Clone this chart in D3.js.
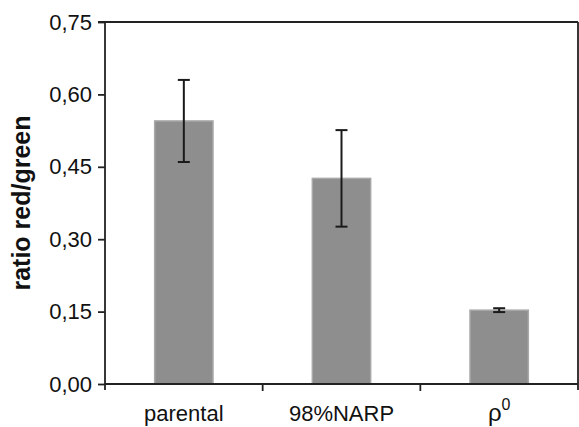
<!DOCTYPE html>
<html><head><meta charset="utf-8">
<script src="https://cdn.jsdelivr.net/npm/d3@7"></script>
<style>body{margin:0;background:#fff}svg{display:block}text{font-family:"Liberation Sans",Arial,sans-serif;fill:#111}</style>
</head><body>
<svg id="c" width="579" height="427"></svg>
<script>
const categories = ["parental", "98%NARP", "ρ0"];
const means = [0.545, 0.426, 0.153];
const errors = [0.085, 0.100, 0.004];
const yTicks = [0, 0.15, 0.30, 0.45, 0.60, 0.75];
const yLabel = "ratio red/green";

const svg = d3.select("#c");
const L = 105, R = 578, T = 22, B = 384;
const x = d3.scaleBand().domain(categories).range([L, R]).paddingInner(0).paddingOuter(0);
const y = d3.scaleLinear().domain([0, 0.75]).range([B, T]);
const barW = x.bandwidth() * 0.37;
const fmt = d => d3.format(".2f")(d).replace(".", ",");

// frame top & right
svg.append("line").attr("x1", L - 7).attr("x2", R).attr("y1", T).attr("y2", T).attr("stroke", "#222").attr("stroke-width", 1.8);
svg.append("line").attr("x1", R).attr("x2", R).attr("y1", T).attr("y2", B + 6).attr("stroke", "#222").attr("stroke-width", 1.8);

// bars
svg.selectAll("rect.bar").data(categories).join("rect")
  .attr("x", d => x(d) + x.bandwidth() / 2 - barW / 2)
  .attr("width", barW)
  .attr("y", (d, i) => y(means[i]))
  .attr("height", (d, i) => y(0) - y(means[i]))
  .attr("fill", "#8e8e8e").attr("stroke", "#a8a8a8").attr("stroke-width", 1.5);

// error bars
const eg = svg.append("g").attr("stroke", "#1a1a1a").attr("stroke-width", 2);
categories.forEach((c, i) => {
  const cx = x(c) + x.bandwidth() / 2;
  const y1 = y(means[i] + errors[i]), y2 = y(means[i] - errors[i]);
  eg.append("line").attr("x1", cx).attr("x2", cx).attr("y1", y1).attr("y2", y2);
  eg.append("line").attr("x1", cx - 6).attr("x2", cx + 6).attr("y1", y1).attr("y2", y1);
  eg.append("line").attr("x1", cx - 6).attr("x2", cx + 6).attr("y1", y2).attr("y2", y2);
});

// y axis
const ya = svg.append("g").attr("transform", `translate(${L},0)`)
  .call(d3.axisLeft(y).tickValues(yTicks).tickFormat(fmt).tickSize(7).tickPadding(6));
ya.select(".domain").attr("d", `M0,${T}V${B + 6}`).attr("stroke", "#222").attr("stroke-width", 1.8);
ya.selectAll(".tick line").attr("stroke", "#222").attr("stroke-width", 1.8);
ya.selectAll(".tick text").attr("font-size", 22).attr("fill", "#111")
  .attr("font-family", '"Liberation Sans",Arial,sans-serif');

// x axis
const xa = svg.append("g").attr("transform", `translate(0,${B})`)
  .call(d3.axisBottom(x).tickSize(0).tickFormat(""));
xa.select(".domain").attr("d", `M${L},0H${R}`).attr("stroke", "#222").attr("stroke-width", 1.8);
const boundaries = categories.slice(1).map(c => x(c));
xa.selectAll("line.sep").data(boundaries).join("line").attr("class", "sep")
  .attr("x1", d => d).attr("x2", d => d).attr("y1", 0).attr("y2", 7)
  .attr("stroke", "#222").attr("stroke-width", 1.8);

// x labels
categories.forEach((c, i) => {
  const cx = x(c) + x.bandwidth() / 2;
  const t = svg.append("text").attr("x", cx).attr("y", 421).attr("text-anchor", "middle").attr("font-size", 22);
  if (c === "ρ0") {
    t.append("tspan").attr("font-size", 24).text("ρ");
    t.append("tspan").attr("font-size", 16).attr("dy", -11).text("0");
  } else t.text(c);
});

// y label
svg.append("text").attr("transform", `translate(30,${(T + B) / 2}) rotate(-90)`)
  .attr("text-anchor", "middle").attr("font-weight", "bold").attr("font-size", 25).text(yLabel);
</script>
</body></html>
